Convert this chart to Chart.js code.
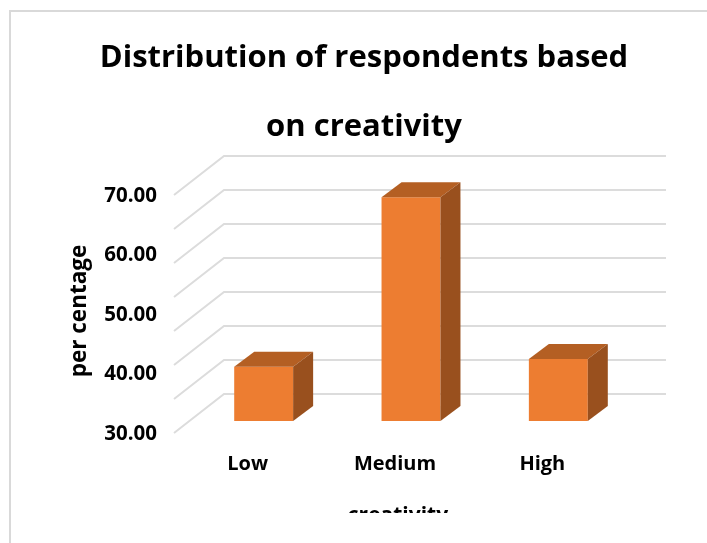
<!DOCTYPE html>
<html>
<head>
<meta charset="utf-8">
<title>Distribution of respondents based on creativity</title>
<script src="https://cdn.jsdelivr.net/npm/chart.js@4"></script>
<style>
  html, body { margin: 0; background: #fff; overflow: hidden; }
  #frame { position: absolute; left: 9px; top: 10px; width: 698px; height: 533px;
           border-left: 2px solid #d9d9d9; border-top: 2px solid #d9d9d9; box-sizing: border-box; }
  #chart { position: absolute; left: 0; top: 0; }
</style>
</head>
<body>
<div id="frame"></div>
<canvas id="chart" width="707" height="513"></canvas>
<script>
const categories = ['Low', 'Medium', 'High'];
const percentages = [39.1, 67.6, 40.4];
const yTickLabels = ['30.00', '40.00', '50.00', '60.00', '70.00'];
const gridValues = [30, 35.71, 41.43, 47.14, 52.86, 58.57, 64.29, 70];
const titleLines = ['Distribution of respondents based', 'on creativity'];
const xAxisTitle = 'creativity';
const yAxisTitle = 'per centage';

const fontFamily = '"Open Sans", sans-serif';

// Excel style 3D look: walls and bar depth are drawn around the library's scales
const depthPlugin = {
    id: 'depth',
    beforeDatasetsDraw(chart) {
        const { ctx, scales } = chart;
        ctx.save();
        ctx.strokeStyle = '#dcdcdc';
        ctx.lineWidth = 2;
        gridValues.forEach((value) => {
            const y = scales.y.getPixelForValue(value);
            ctx.beginPath();
            ctx.moveTo(scales.x.left - 16, y + 12);
            ctx.lineTo(scales.x.left + 34, y - 27);
            ctx.lineTo(scales.x.right + 34, y - 27);
            ctx.stroke();
        });
        ctx.restore();
    },
    afterDatasetsDraw(chart) {
        const { ctx, scales } = chart;
        const dx = 20;
        const dy = 15;
        const bottom = scales.y.bottom;
        ctx.save();
        chart.getDatasetMeta(0).data.forEach((bar) => {
            const left = bar.x - bar.width / 2;
            const right = bar.x + bar.width / 2;

            // top face
            ctx.fillStyle = '#b45f23';
            ctx.beginPath();
            ctx.moveTo(left, bar.y);
            ctx.lineTo(left + dx, bar.y - dy);
            ctx.lineTo(right + dx, bar.y - dy);
            ctx.lineTo(right, bar.y);
            ctx.closePath();
            ctx.fill();

            // side face
            ctx.fillStyle = '#99501e';
            ctx.beginPath();
            ctx.moveTo(right, bar.y);
            ctx.lineTo(right + dx, bar.y - dy);
            ctx.lineTo(right + dx, bottom - dy);
            ctx.lineTo(right, bottom);
            ctx.closePath();
            ctx.fill();
        });
        ctx.restore();
    },
    afterDraw(chart) {
        // axis titles sit off centre from the plot, the scale title option can't do that
        const { ctx } = chart;
        ctx.save();
        ctx.fillStyle = '#000';
        ctx.font = `bold 21px ${fontFamily}`;
        ctx.textAlign = 'center';
        ctx.fillText(xAxisTitle, 398, 522);
        ctx.font = `bold 22.5px ${fontFamily}`;
        ctx.textBaseline = 'middle';
        ctx.translate(80, 311);
        ctx.rotate(-Math.PI / 2);
        ctx.fillText(yAxisTitle, 0, 0);
        ctx.restore();
    },
};

new Chart(document.getElementById('chart'), {
    type: 'bar',
    data: {
        labels: categories,
        datasets: [{
            label: yAxisTitle,
            data: percentages,
            backgroundColor: '#ed7d31',
            barPercentage: 0.4,
            categoryPercentage: 1,
        }],
    },
    options: {
        responsive: false,
        animation: false,
        layout: { padding: { left: 96, right: 75, top: 0, bottom: 0 } },
        plugins: {
            legend: { display: false },
            tooltip: { enabled: false },
            title: {
                display: true,
                text: titleLines,
                color: '#000',
                font: { family: fontFamily, size: 31, weight: 'bold', lineHeight: 2.226 },
                padding: { top: 24, bottom: 21 },
            },
        },
        scales: {
            x: {
                grid: { display: false },
                border: { display: false },
                afterFit: (scale) => { scale.height = 92; },
                ticks: {
                    color: '#000',
                    font: { family: fontFamily, size: 20, weight: 'bold' },
                    padding: 23,
                    labelOffset: -16,
                    maxRotation: 0,
                },
            },
            y: {
                min: 30,
                max: 70,
                grid: { display: false },
                border: { display: false },
                afterFit: (scale) => { scale.width = 94; },
                afterBuildTicks: (scale) => {
                    scale.ticks = yTickLabels.map((label) => ({ value: Number(label) }));
                },
                ticks: {
                    color: '#000',
                    font: { family: fontFamily, size: 20.5, weight: 'bold' },
                    padding: 25,
                    labelOffset: 13,
                    callback: (value) => value.toFixed(2),
                },
            },
        },
    },
    plugins: [depthPlugin],
});
</script>
</body>
</html>
